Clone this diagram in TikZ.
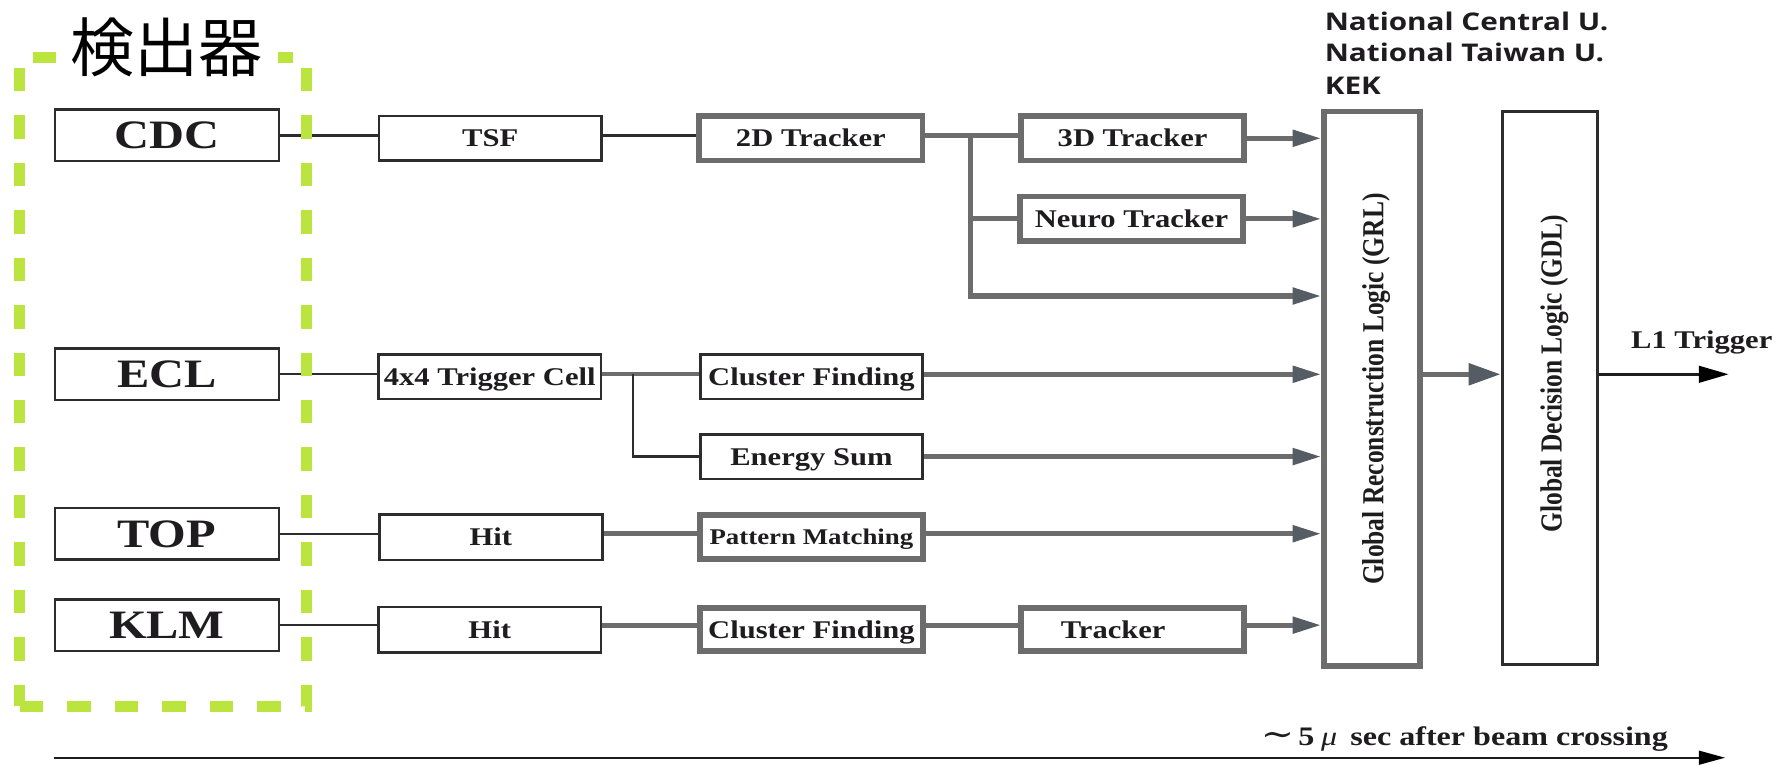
\documentclass[tikz,border=0pt]{standalone}
\usepackage{fontspec}
\usepackage{graphicx}
\setmainfont{Liberation Serif}
\newfontfamily\cjkfont{Noto Sans CJK JP}
\newfontfamily\instfont{Open Sans}
\newfontfamily\symfont{DejaVu Serif}
\usetikzlibrary{arrows.meta}

\definecolor{framegreen}{RGB}{188,228,62}
\definecolor{inkc}{RGB}{30,28,30}
\definecolor{thinc}{RGB}{45,45,45}
\definecolor{boldc}{RGB}{108,108,108}
\definecolor{tipc}{RGB}{86,92,100}

% the serif labels are set a little wider than their natural shape
\newcommand{\wide}[1]{\scalebox{1.2}[1]{#1}}
\newcommand{\tall}[1]{\scalebox{1}[1.2]{#1}}

\begin{document}
\begin{tikzpicture}[x=1pt, y=-1pt,
  thinbox/.style={draw=thinc, line width=2.2pt, fill=white, inner sep=0pt, text=inkc},
  boldbox/.style={draw=boldc, line width=5pt, fill=white, inner sep=0pt, text=inkc},
  bigtxt/.style={font=\fontsize{35.3}{40}\selectfont\bfseries, text height=23.4pt, text depth=0pt},
  midtxt/.style={font=\fontsize{22.3}{26}\selectfont\bfseries, text height=14.8pt, text depth=0pt},
  smalltxt/.style={font=\fontsize{19.6}{23}\selectfont\bfseries, text height=13pt, text depth=0pt},
  detbox/.style={thinbox, bigtxt, minimum width=196pt, minimum height=45pt},
  stagebox/.style={thinbox, midtxt, minimum width=195pt, minimum height=39pt},
  trackbox/.style={boldbox, midtxt, minimum width=195.5pt, minimum height=39pt},
  vlabel/.style={rotate=90, inner sep=0pt, text=inkc, font=\fontsize{22.3}{26}\selectfont\bfseries},
  inst/.style={anchor=base west, inner sep=0pt, text=inkc, font=\instfont\bfseries\fontsize{21.3}{25}\selectfont},
  thinline/.style={draw=thinc, line width=2pt},
  gline/.style={draw=boldc, line width=4.5pt},
  garrow/.style={gline, -{Triangle[length=25pt, width=14pt, color=tipc]}}
]
\useasboundingbox (0,0) rectangle (1568,669);
\fill[white] (0,0) rectangle (1568,669);

% detectors
\node[detbox] (CDC) at (146,118.5) {\wide{CDC}};
\node[detbox] (ECL) at (146,327.5) {\wide{ECL}};
\node[detbox] (TOP) at (146,467) {\wide{TOP}};
\node[detbox] (KLM) at (146,547) {\wide{KLM}};

% first processing stage
\node[stagebox] (TSF) at (429,121) {\wide{TSF}};
\node[stagebox] (TC) at (428.5,329.5) {\wide{4x4 Trigger Cell}};
\node[stagebox, minimum height=40pt] (hitT) at (429.5,470) {\wide{Hit}};
\node[stagebox, minimum height=40pt] (hitK) at (428.5,551) {\wide{Hit}};

% second processing stage
\node[trackbox] (D2) at (709.5,121) {\wide{2D Tracker}};
\node[stagebox, minimum width=194pt] (CFe) at (710,329.5) {\wide{Cluster Finding}};
\node[stagebox, minimum width=194pt] (ES) at (710,399.5) {\wide{Energy Sum}};
\node[trackbox, smalltxt, minimum height=38.5pt] (PM) at (710,470) {\wide{Pattern Matching}};
\node[trackbox, minimum height=37.5pt] (CFk) at (710,551) {\wide{Cluster Finding}};

% third processing stage
\node[trackbox] (D3) at (991,121) {\wide{3D Tracker}};
\node[trackbox] (NT) at (990,191.5) {\wide{Neuro Tracker}};
\node[trackbox, minimum height=37.5pt] (TRK) at (991,551) {\wide{Tracker}\kern34pt};

% global logic
\node[boldbox, minimum width=84pt, minimum height=485pt] (GRL) at (1200.5,340) {};
\node[thinbox, line width=2.6pt, minimum width=83.4pt, minimum height=484.4pt] (GDL) at (1356,339.5) {};
\node[vlabel] (GRLtxt) at (1204,340.5) {\tall{Global Reconstruction Logic (GRL)}};
\node[vlabel] (GDLtxt) at (1360,327) {\tall{Global Decision Logic (GDL)}};

\node[inst] (inst1) at (1159,26.8) {\scalebox{1.22}[1]{National Central U.}};
\node[inst] (inst2) at (1159,54) {\scalebox{1.22}[1]{National Taiwan U.}};
\node[inst] (inst3) at (1159,82.3) {\scalebox{1.22}[1]{KEK}};

\node[anchor=base west, inner sep=0pt, text=inkc, font=\fontsize{22.3}{26}\selectfont\bfseries] (L1) at (1427,304.5) {\wide{L1 Trigger}};

% CDC chain
\coordinate (trk) at (849,118.5);
\coordinate (trkLow) at (849,259);
\draw[thinline] (CDC.east) -- (CDC.east -| TSF.west);
\draw[thinline] (CDC.east -| TSF.east) -- (CDC.east -| D2.west);
\draw[gline] (CDC.east -| D2.east) -- (CDC.east -| D3.west);
\draw[garrow] (D3.east) -- (D3.east -| GRL.west);
\draw[gline] (trk |- NT.west) -- (NT.west);
\draw[garrow] (NT.east) -- (NT.east -| GRL.west);
\draw[garrow] (trk) |- (trkLow -| GRL.west);

% ECL chain
\coordinate (eclsplit) at (554,327.5);
\draw[thinline] (ECL.east) -- (ECL.east -| TC.west);
\draw[draw=boldc, line width=3.5pt] (ECL.east -| TC.east) -- (ECL.east -| CFe.west);
\draw[thinline] (eclsplit) |- (ES.west);
\draw[garrow] (ECL.east -| CFe.east) -- (ECL.east -| GRL.west);
\draw[garrow] (ES.east) -- (ES.east -| GRL.west);

% TOP chain
\draw[thinline] (TOP.east) -- (TOP.east -| hitT.west);
\draw[gline] (TOP.east -| hitT.east) -- (TOP.east -| PM.west);
\draw[garrow] (TOP.east -| PM.east) -- (TOP.east -| GRL.west);

% KLM chain
\draw[thinline] (KLM.east) -- (KLM.east -| hitK.west);
\draw[gline] (KLM.east -| hitK.east) -- (KLM.east -| CFk.west);
\draw[gline] (KLM.east -| CFk.east) -- (KLM.east -| TRK.west);
\draw[garrow] (KLM.east -| TRK.east) -- (KLM.east -| GRL.west);

% GRL -> GDL -> L1
\coordinate (L1tip) at (1512.5,327.5);
\draw[gline, -{Triangle[length=28pt, width=18.5pt, color=tipc]}] (ECL.east -| GRL.east) -- (ECL.east -| GDL.west);
\draw[draw=inkc, line width=2.2pt, -{Triangle[length=26pt, width=14.5pt, color=black]}] (ECL.east -| GDL.east) -- (L1tip);

% time axis
\coordinate (t0) at (47.6,663);
\coordinate (t1) at (1509.5,663);
\draw[draw=inkc, line width=2pt, -{Triangle[length=23pt, width=12pt, color=black]}] (t0) -- (t1);
\node[anchor=base west, inner sep=0pt, text=inkc, font=\fontsize{23.4}{28}\selectfont] (time) at (1103,652)
  {\wide{{\symfont\fontsize{29}{30}\selectfont ∼}\kern3pt\textbf{5}\kern5pt\textit{μ}\kern9.5pt\textbf{sec after beam crossing}}};

% detector group frame
\draw[framegreen, line width=9.5pt, dash pattern=on 20.5pt off 21pt, dash phase=1.5pt] (17,618) -- (17,50) -- (268,50) -- (268,618) -- cycle;
\node[fill=white, inner sep=0pt, minimum width=194pt, minimum height=58pt, text=black,
      font=\cjkfont\fontsize{56}{60}\selectfont, text height=46.5pt, text depth=3.9pt] (det) at (146,41) {検出器};
\end{tikzpicture}
\end{document}
